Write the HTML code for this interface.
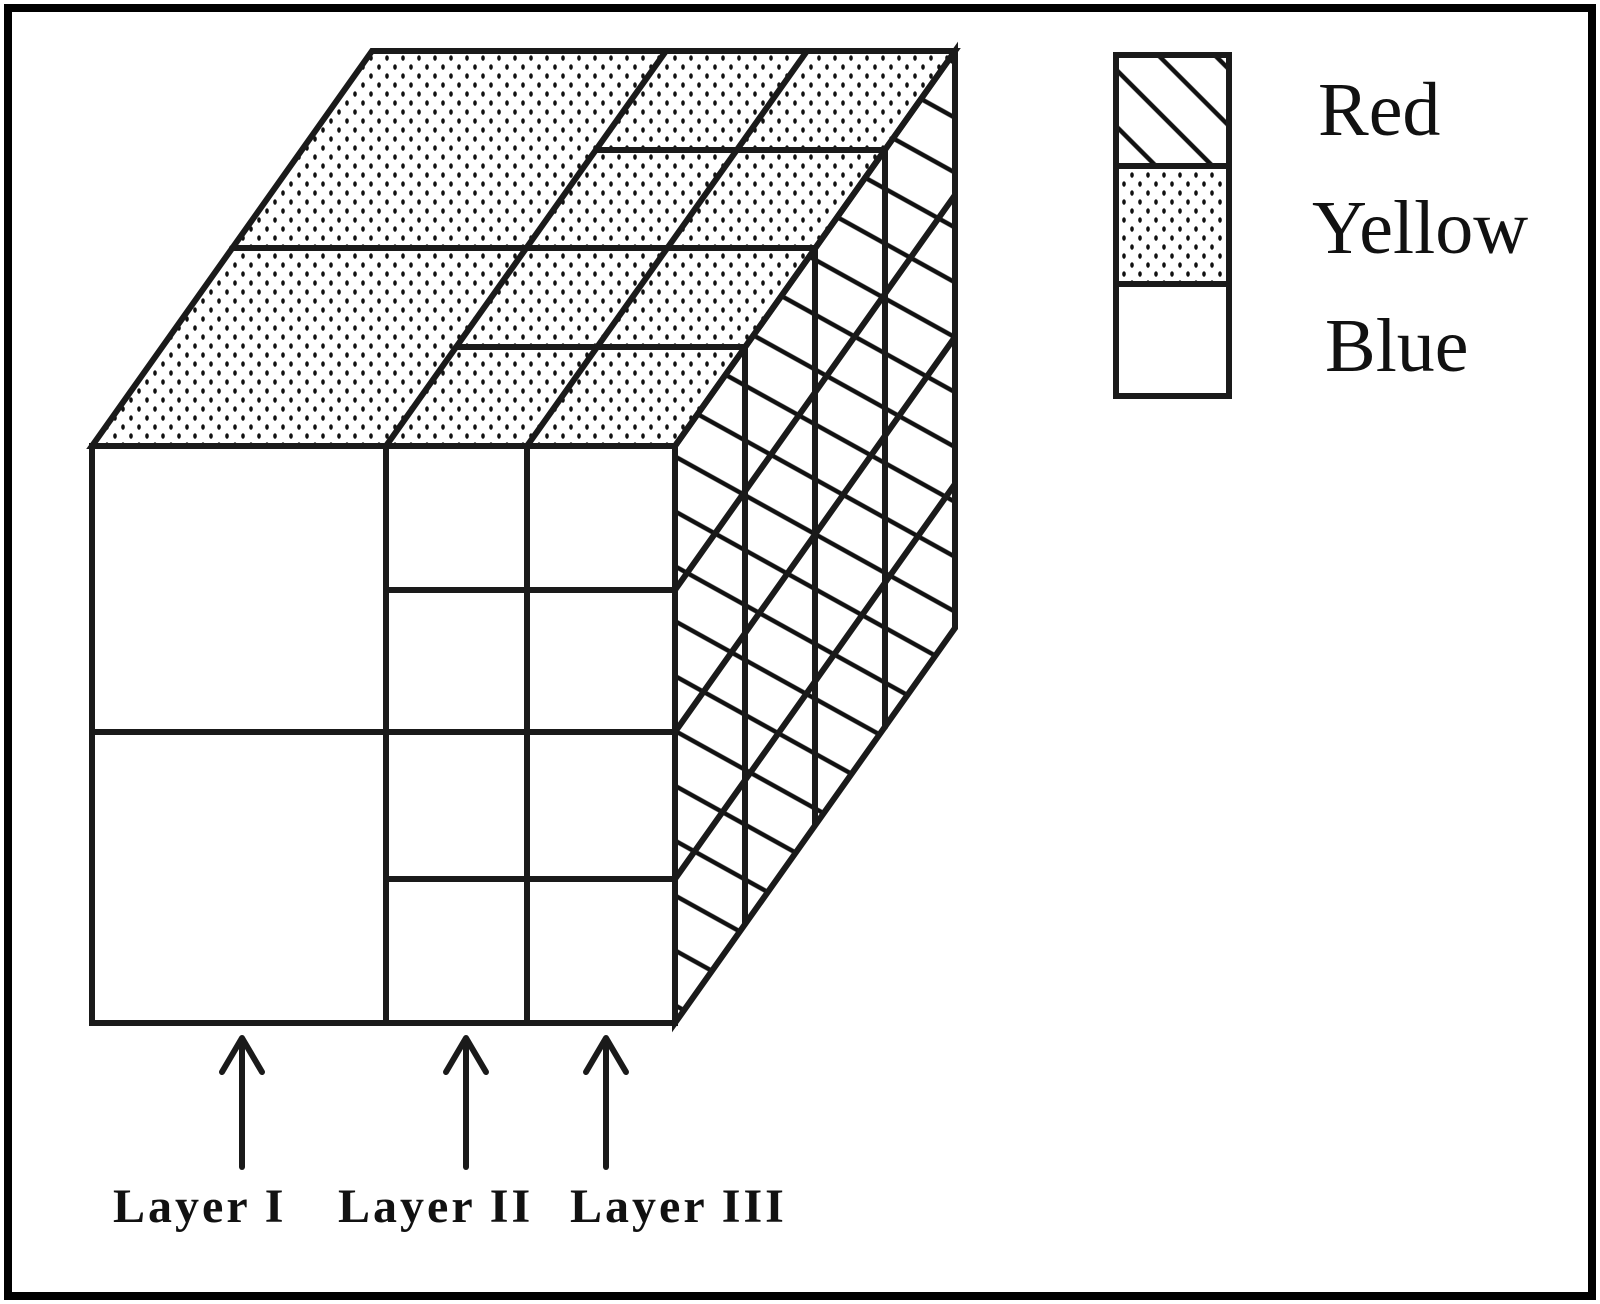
<!DOCTYPE html>
<html><head><meta charset="utf-8"><style>
html,body{margin:0;padding:0;background:#fff;}
svg{display:block;}
</style></head><body>
<svg width="1600" height="1304" viewBox="0 0 1600 1304" xmlns="http://www.w3.org/2000/svg">
<defs>
<pattern id="dots" width="16" height="18" patternUnits="userSpaceOnUse">
<ellipse cx="3" cy="4" rx="1.8" ry="2.8" fill="#111"/>
<ellipse cx="11" cy="13" rx="1.8" ry="2.8" fill="#111"/>
</pattern>
<pattern id="hatch" width="60" height="48" patternUnits="userSpaceOnUse" patternTransform="rotate(29)">
<line x1="0" y1="24" x2="60" y2="24" stroke="#111" stroke-width="4.5"/>
</pattern>
<pattern id="lhatch" width="40" height="40" patternUnits="userSpaceOnUse" patternTransform="rotate(45)">
<line x1="0" y1="20" x2="40" y2="20" stroke="#111" stroke-width="4.5"/>
</pattern>
<pattern id="ldots" width="16" height="18" patternUnits="userSpaceOnUse">
<ellipse cx="4" cy="4" rx="1.8" ry="2.8" fill="#111"/>
<ellipse cx="12" cy="13" rx="1.8" ry="2.8" fill="#111"/>
</pattern>
</defs>
<rect x="0" y="0" width="1600" height="1304" fill="#fff"/>
<rect x="8" y="8" width="1584" height="1288" fill="none" stroke="#000" stroke-width="8"/>

<polygon points="92,446 675,446 955,51 372,51" fill="url(#dots)"/>
<polygon points="675,446 955,51 955,628 675,1023" fill="url(#hatch)"/>
<rect x="92" y="446" width="583" height="577" fill="#fff"/>

<g stroke="#1a1a1a" stroke-width="6" fill="none" stroke-linecap="round">
<polygon points="92,446 675,446 955,51 372,51"/>
<polygon points="675,446 955,51 955,628 675,1023"/>
<rect x="92" y="446" width="583" height="577"/>
<line x1="386" y1="446" x2="386" y2="1023"/>
<line x1="527" y1="446" x2="527" y2="1023"/>
<line x1="92" y1="732" x2="675" y2="732"/>
<line x1="386" y1="590" x2="675" y2="590"/>
<line x1="386" y1="879" x2="675" y2="879"/>
<line x1="386" y1="446" x2="666" y2="51"/>
<line x1="527" y1="446" x2="807" y2="51"/>
<line x1="232" y1="248" x2="815" y2="248"/>
<line x1="456" y1="347" x2="745" y2="347"/>
<line x1="596" y1="150" x2="885" y2="150"/>
<line x1="745" y1="347" x2="745" y2="924"/>
<line x1="815" y1="248" x2="815" y2="825"/>
<line x1="885" y1="150" x2="885" y2="727"/>
<line x1="675" y1="590" x2="955" y2="195"/>
<line x1="675" y1="732" x2="955" y2="337"/>
<line x1="675" y1="879" x2="955" y2="484"/>
</g>

<rect x="1116" y="55" width="113" height="111" fill="url(#lhatch)"/>
<rect x="1116" y="166" width="113" height="118" fill="url(#ldots)"/>
<g stroke="#1a1a1a" stroke-width="6" fill="none">
<rect x="1116" y="55" width="113" height="341"/>
<line x1="1116" y1="166" x2="1229" y2="166"/>
<line x1="1116" y1="284" x2="1229" y2="284"/>
</g>
<g font-family="'Liberation Serif',serif" font-size="76" fill="#111">
<text x="1318" y="135">Red</text>
<text x="1312" y="253">Yellow</text>
<text x="1325" y="371">Blue</text>
</g>

<g stroke="#1a1a1a" stroke-width="6" fill="none" stroke-linecap="round" stroke-linejoin="round">
<line x1="242" y1="1040" x2="242" y2="1167"/>
<polyline points="222,1072 242,1038 262,1072"/>
<line x1="466" y1="1040" x2="466" y2="1167"/>
<polyline points="446,1072 466,1038 486,1072"/>
<line x1="606" y1="1040" x2="606" y2="1167"/>
<polyline points="586,1072 606,1038 626,1072"/>
</g>
<g font-family="'Liberation Serif',serif" font-size="48" font-weight="bold" fill="#111" letter-spacing="3">
<text x="113" y="1222">Layer I</text>
<text x="338" y="1222">Layer II</text>
<text x="570" y="1222">Layer III</text>
</g>
</svg>
</body></html>
